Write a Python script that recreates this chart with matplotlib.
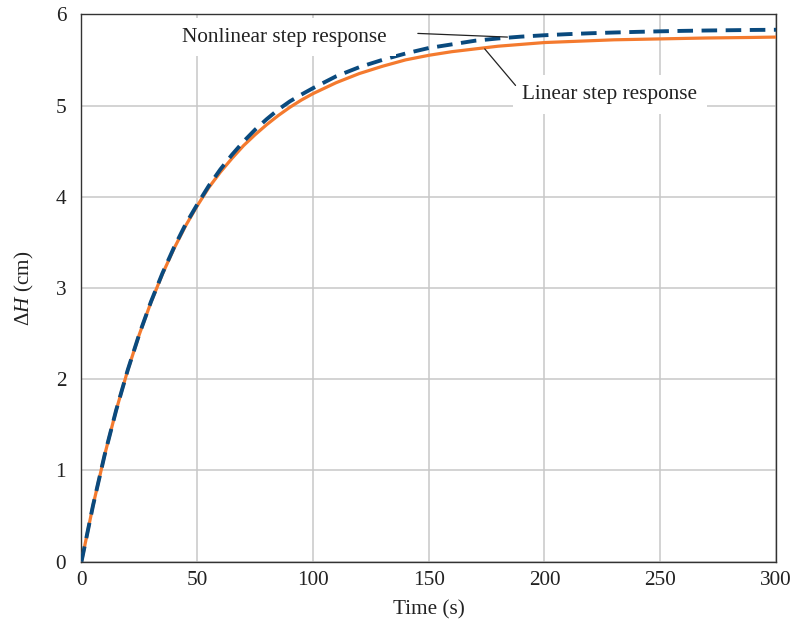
import matplotlib
matplotlib.use("Agg")
import matplotlib.pyplot as plt

plt.rcParams['font.family'] = ['Liberation Serif', 'DejaVu Serif']
plt.rcParams['mathtext.fontset'] = 'custom'
plt.rcParams['mathtext.rm'] = 'Liberation Serif'
plt.rcParams['mathtext.it'] = 'Liberation Serif:italic'

# Data
time_s = [0, 5, 10, 15, 20, 25, 30, 35, 40, 45, 50, 55, 60, 65, 70, 75, 80, 85, 90, 95,
          100, 110, 120, 130, 140, 150, 160, 170, 180, 190, 200, 210, 220, 230, 240,
          250, 260, 270, 280, 290, 300]
linear_dh = [0, 0.617, 1.169, 1.661, 2.100, 2.492, 2.842, 3.154, 3.433, 3.682, 3.900,
             4.100, 4.270, 4.420, 4.560, 4.680, 4.790, 4.890, 4.980, 5.060,
             5.130, 5.250, 5.350, 5.430, 5.500, 5.550, 5.590, 5.620, 5.650, 5.670,
             5.690, 5.700, 5.710, 5.720, 5.725, 5.730, 5.735, 5.740, 5.743, 5.746, 5.750]
nonlinear_dh = [0, 0.617, 1.169, 1.662, 2.102, 2.496, 2.848, 3.163, 3.446, 3.699, 3.915,
                4.120, 4.300, 4.460, 4.605, 4.735, 4.850, 4.955, 5.045, 5.120,
                5.190, 5.320, 5.420, 5.500, 5.570, 5.630, 5.670, 5.710, 5.735, 5.755,
                5.770, 5.782, 5.792, 5.800, 5.807, 5.813, 5.818, 5.822, 5.825, 5.828, 5.830]
x_ticks = [0, 50, 100, 150, 200, 250, 300]
y_ticks = [0, 1, 2, 3, 4, 5, 6]

FS = 15.3
TXT = '#222222'

fig = plt.figure(figsize=(7.94, 6.20), dpi=100)
ax = fig.add_axes([0.1026, 0.094, 0.8747, 0.883])

ax.plot(time_s, linear_dh, color='#f47a2e', lw=2.3, zorder=3, solid_capstyle='butt')
ax.plot(time_s, nonlinear_dh, color='#0a4a7e', lw=2.8, zorder=4,
        linestyle=(0, (4.0, 2.2)), dash_capstyle='butt')

ax.set_xlim(0, 300)
ax.set_ylim(0, 6)
ax.set_xticks(x_ticks)
ax.set_yticks(y_ticks)
ax.grid(True, color='#c8c8c8', lw=1.1)
ax.set_axisbelow(True)
ax.tick_params(length=0, labelsize=FS, colors=TXT)
ax.tick_params(axis='y', pad=11)
ax.tick_params(axis='x', pad=7)
for s in ax.spines.values():
    s.set_color('#333333')
    s.set_linewidth(1.0)

ax.set_xlabel('Time (s)', fontsize=FS, color=TXT, labelpad=7)
ax.set_ylabel(r'$\Delta\mathit{H}$ (cm)', fontsize=FS, color=TXT, labelpad=14)

bbox = dict(boxstyle='square,pad=0.45', fc='white', ec='none')
lead = dict(arrowstyle='-', color=TXT, lw=0.9, shrinkA=0, shrinkB=0)

# Nonlinear label and its detached leader line
ax.text(87.5, 5.75, 'Nonlinear step response', ha='center', va='center',
        fontsize=FS, color=TXT, bbox=bbox, zorder=5)
ax.annotate('', xy=(184.0, 5.75), xytext=(145.3, 5.79), arrowprops=lead, zorder=5)

# Linear label and its leader line
ax.text(228.3, 5.12, 'Linear step response', ha='center', va='center',
        fontsize=FS, color=TXT, bbox=bbox, zorder=5)
ax.annotate('', xy=(174.2, 5.62), xytext=(187.5, 5.22), arrowprops=lead, zorder=5)

fig.savefig('out.png', dpi=100)
